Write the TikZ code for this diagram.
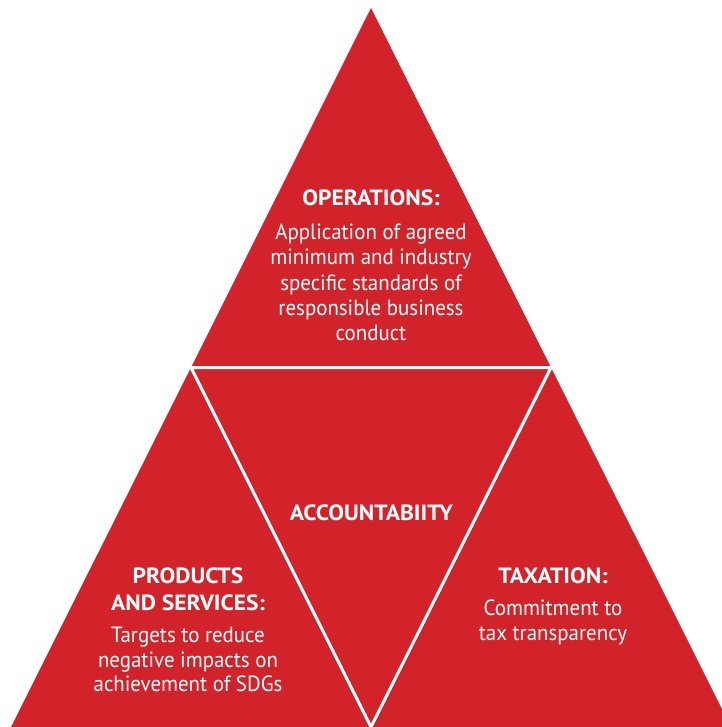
\documentclass[tikz,border=0pt]{standalone}
\usepackage{fontspec}
\setmainfont{PT Sans}[FakeStretch=0.95, BoldFeatures={FakeStretch=1.07}]
\definecolor{tri}{HTML}{D2232A}
\tikzset{
  reg/.style={text=white, inner sep=0pt, anchor=base, font=\fontsize{22}{25}\selectfont},
  hdr/.style={text=white, inner sep=0pt, anchor=base, font=\fontsize{22}{25}\selectfont\bfseries},
  gap/.style={draw=white, line width=3pt, line join=miter}
}
\begin{document}
\begin{tikzpicture}[x=1pt,y=-1pt]
\useasboundingbox (0,0) rectangle (721,727);
\coordinate (apex) at (371,8);
\coordinate (bl) at (11,727);
\coordinate (br) at (731,727);
\coordinate (ml) at (191,367.5);
\coordinate (mr) at (551,367.5);
\coordinate (mb) at (371,727);
\fill[tri] (apex) -- (bl) -- (br) -- cycle;
\draw[gap] (ml) -- (mr) -- (mb) -- cycle;
% top
\node[hdr] (op) at (371,206) {OPERATIONS:};
\node[reg] (op1) at (371,239) {Application of agreed};
\node[reg] (op2) at (371,264) {minimum and industry};
\node[reg] (op3) at (371,290) {specific standards of};
\node[reg] (op4) at (371,315) {responsible business};
\node[reg] (op5) at (371,340) {conduct};
% middle
\node[hdr] (acc) at (371.5,520) {ACCOUNTABIITY};
% left
\node[hdr] (pr1) at (188,583) {PRODUCTS};
\node[hdr] (pr2) at (188,610) {AND SERVICES:};
\node[reg] (pr3) at (188,642) {Targets to reduce};
\node[reg] (pr4) at (188,667) {negative impacts on};
\node[reg] (pr5) at (188,691) {achievement of SDGs};
% right
\node[hdr] (tx) at (553,583) {TAXATION:};
\node[reg] (tx1) at (553,615) {Commitment to};
\node[reg] (tx2) at (553,640) {tax transparency};
\end{tikzpicture}
\end{document}
